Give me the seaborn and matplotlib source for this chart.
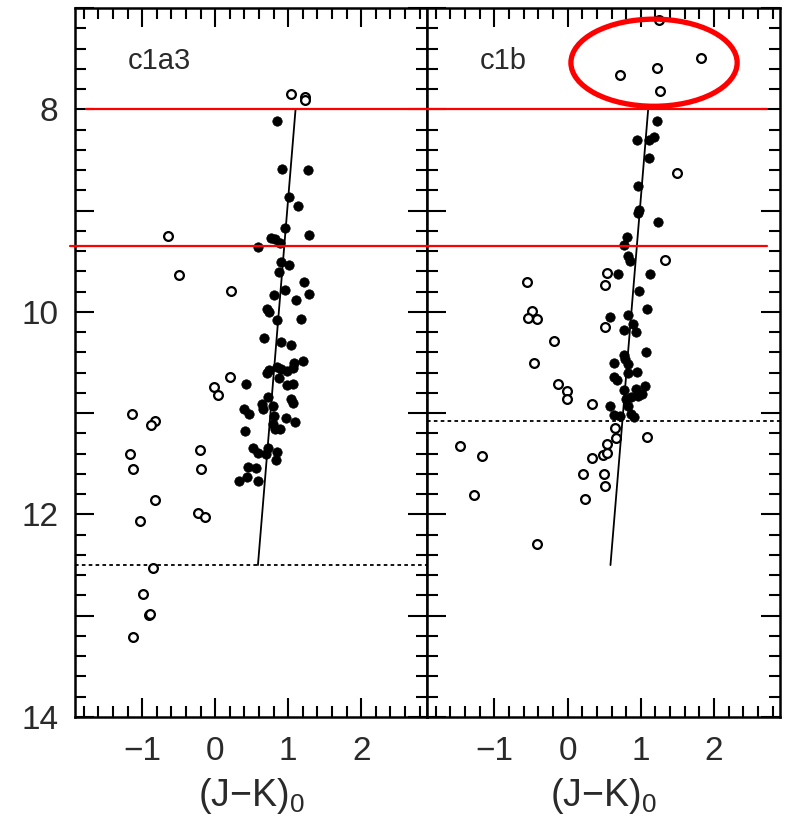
import numpy as np
import pandas as pd
import matplotlib
matplotlib.use("Agg")
import matplotlib.pyplot as plt
import seaborn as sns
from matplotlib.patches import Ellipse
from matplotlib.lines import Line2D
from matplotlib.ticker import MultipleLocator, FuncFormatter
import matplotlib.transforms as mtransforms

# ---------------- data ----------------
panels = ["c1a3", "c1b"]

c1a3_filled_x = [0.845, 0.918, 1.274, 1.01, 1.14, 0.955, 1.28, 0.767, 0.82, 0.886, 0.58, 0.895, 1.01, 0.88,
                 1.22, 0.95, 0.81, 1.29, 1.11, 0.71, 0.73, 0.845, 1.18, 0.67, 0.90, 1.04, 1.08, 1.20, 0.73,
                 0.71, 0.85, 0.90, 0.98, 1.07, 0.87, 0.98, 1.07, 0.415, 0.72, 1.04, 1.06, 0.64, 0.65, 0.785,
                 0.39, 0.456, 0.81, 0.97, 1.09, 0.785, 0.82, 0.89, 0.41, 0.52, 0.58, 0.72, 0.845, 0.70, 0.83,
                 0.45, 0.56, 0.43, 0.33, 0.58]
c1a3_filled_y = [8.12, 8.59, 8.60, 8.87, 8.95, 9.17, 9.24, 9.27, 9.28, 9.32, 9.36, 9.51, 9.54, 9.61,
                 9.71, 9.78, 9.83, 9.82, 9.88, 9.97, 10.00, 10.08, 10.07, 10.26, 10.30, 10.33, 10.50, 10.49, 10.57,
                 10.60, 10.54, 10.56, 10.58, 10.55, 10.65, 10.72, 10.71, 10.71, 10.84, 10.86, 10.90, 10.91, 10.96, 10.93,
                 10.96, 11.01, 11.03, 11.05, 11.09, 11.11, 11.16, 11.16, 11.18, 11.34, 11.39, 11.34, 11.38, 11.40, 11.46,
                 11.53, 11.54, 11.63, 11.67, 11.67]

c1a3_open_x = [1.04, 1.23, 1.23, -0.653, -0.50, 0.22, 0.205, -0.02, 0.04, -1.14, -0.83, -0.88, -1.164, -1.13,
               -0.205, -0.196, -0.83, -1.03, -0.23, -0.137, -0.853, -0.99, -0.91, -0.89, -1.12]
c1a3_open_y = [7.85, 7.88, 7.91, 9.25, 9.64, 9.79, 10.64, 10.74, 10.82, 11.01, 11.08, 11.12, 11.40, 11.55,
               11.36, 11.55, 11.86, 12.06, 11.99, 12.03, 12.53, 12.79, 12.99, 12.98, 13.21]

c1b_filled_x = [1.22, 0.95, 1.11, 1.18, 1.11, 0.956, 0.98, 0.956, 1.24, 0.81, 0.765, 0.83, 0.855, 0.687, 1.12,
                0.97, 1.09, 0.58, 0.83, 0.77, 0.89, 0.93, 1.07, 0.765, 0.79, 0.63, 0.83, 0.95, 0.83, 0.63, 0.68,
                1.05, 0.93, 0.77, 1.02, 0.96, 0.87, 0.80, 0.83, 0.58, 0.63, 0.72, 0.865, 0.91]
c1b_filled_y = [8.12, 8.30, 8.30, 8.27, 8.48, 8.76, 8.99, 9.02, 9.11, 9.26, 9.34, 9.45, 9.50, 9.63, 9.63,
                9.79, 9.97, 10.05, 10.03, 10.18, 10.12, 10.20, 10.40, 10.43, 10.47, 10.50, 10.51, 10.59, 10.60, 10.64, 10.67,
                10.73, 10.76, 10.77, 10.81, 10.83, 10.84, 10.86, 10.93, 10.93, 11.02, 11.03, 11.01, 11.04]

c1b_open_x = [1.25, 0.72, 1.22, 1.82, 1.26, 1.50, 1.33, 0.537, 0.51, 0.51, 0.33, 0.65, 0.66, 1.09, 0.537,
              0.48, 0.54, 0.33, 0.205, 0.50, 0.51, 0.24, -0.556, -0.48, -0.54, -0.42, -0.19, -0.465, -0.13,
              -0.014, -0.01, -1.467, -1.175, -1.28, -0.42]
c1b_open_y = [7.12, 7.66, 7.59, 7.49, 7.82, 8.63, 9.49, 9.62, 9.73, 10.15, 10.91, 11.15, 11.25, 11.24, 11.30,
              11.41, 11.39, 11.44, 11.60, 11.60, 11.72, 11.85, 9.71, 9.99, 10.06, 10.07, 10.29, 10.50, 10.71,
              10.78, 10.86, 11.32, 11.42, 11.81, 12.29]

# fitted sequence line (J-K, K) end points, same in both panels
seq_x = [1.10, 0.585]
seq_y = [8.0, 12.5]

# completeness limits (dotted)
limit_y = {"c1a3": 12.5, "c1b": 11.08}

# red annotation lines and ellipse
red_y = [8.0, 9.35]
ellipse_center = (1.18, 7.54)
ellipse_size = (2.27, 0.86)

# ---------------- tidy frame ----------------
rows = []
for name, fx, fy, ox, oy in [("c1a3", c1a3_filled_x, c1a3_filled_y, c1a3_open_x, c1a3_open_y),
                             ("c1b", c1b_filled_x, c1b_filled_y, c1b_open_x, c1b_open_y)]:
    rows.append(pd.DataFrame({"panel": name, "kind": "filled", "x": fx, "y": fy}))
    rows.append(pd.DataFrame({"panel": name, "kind": "open", "x": ox, "y": oy}))
df = pd.concat(rows, ignore_index=True)
seq_df = pd.DataFrame({"x": seq_x, "y": seq_y})

# ---------------- style ----------------
sns.set_theme(style="white")
plt.rcParams["font.family"] = ["Liberation Sans", "DejaVu Sans"]
plt.rcParams["mathtext.fontset"] = "custom"
plt.rcParams["mathtext.rm"] = "Liberation Sans"
plt.rcParams["mathtext.default"] = "regular"
plt.rcParams["axes.unicode_minus"] = True

fig = plt.figure(figsize=(7.87, 8.25), dpi=100)
H = 825.0
W = 787.0
bottom = 1 - 717 / H
top = 1 - 8 / H
ax1 = fig.add_axes([75 / W, bottom, 352 / W, top - bottom])
ax2 = fig.add_axes([427 / W, bottom, 353 / W, top - bottom])
axes = [ax1, ax2]

label_color = "#2a2a2a"
for ax, name in zip(axes, panels):
    sub = df[df.panel == name]
    sns.scatterplot(data=sub[sub.kind == "open"], x="x", y="y", ax=ax, s=40,
                    facecolor="white", edgecolor="black", linewidth=1.6, zorder=3, legend=False)
    sns.scatterplot(data=sub[sub.kind == "filled"], x="x", y="y", ax=ax, s=46,
                    color="black", edgecolor="black", linewidth=0.5, zorder=4, legend=False)
    sns.lineplot(data=seq_df, x="x", y="y", ax=ax, sort=False, color="black", lw=1.3,
                 estimator=None, zorder=2)
    ax.axhline(limit_y[name], color="black", lw=1.3, ls=(0, (2.0, 1.8)), zorder=2)

    ax.set_xlim(-1.92, 2.9)
    ax.set_ylim(14, 7)
    ax.xaxis.set_major_locator(MultipleLocator(1))
    ax.xaxis.set_minor_locator(MultipleLocator(0.2))
    ax.yaxis.set_major_locator(MultipleLocator(1))
    ax.yaxis.set_minor_locator(MultipleLocator(0.2))
    ax.tick_params(which="both", direction="in", top=True, right=True, bottom=True, left=True,
                   color="black", width=1.5, labelcolor=label_color)
    ax.tick_params(which="major", length=14, labelsize=24, pad=14)
    ax.tick_params(which="minor", length=8)
    ax.tick_params(axis="y", which="major", pad=12)
    ax.xaxis.set_major_formatter(FuncFormatter(lambda v, p: ("\u2212%d" % abs(v)) if v < 0 else "%d" % v))
    for sp in ax.spines.values():
        sp.set_visible(True)
        sp.set_color("black")
        sp.set_linewidth(1.8)
    ax.set_xlabel("(J\u2212K)$_0$", fontsize=27, labelpad=6, color=label_color)
    ax.set_ylabel("")
    ax.text(-1.2, 7.52, name, fontsize=21, va="center", ha="left", color=label_color)

ax1.yaxis.set_major_formatter(FuncFormatter(lambda v, p: "%d" % v if int(round(v)) % 2 == 0 else ""))
ax2.yaxis.set_major_formatter(FuncFormatter(lambda v, p: ""))

# red annotation lines across both panels
start_px = [86, 70]
for yv, sx in zip(red_y, start_px):
    trans = mtransforms.blended_transform_factory(fig.transFigure, ax1.transData)
    ln = Line2D([sx / W, 767 / W], [yv, yv], transform=trans, color="#ff0000", lw=1.6, zorder=10)
    fig.add_artist(ln)

ell = Ellipse(ellipse_center, ellipse_size[0], ellipse_size[1], fill=False,
              edgecolor="#ff0000", lw=3.8, zorder=11, clip_on=False)
ax2.add_patch(ell)

fig.savefig("out.png", dpi=100)
